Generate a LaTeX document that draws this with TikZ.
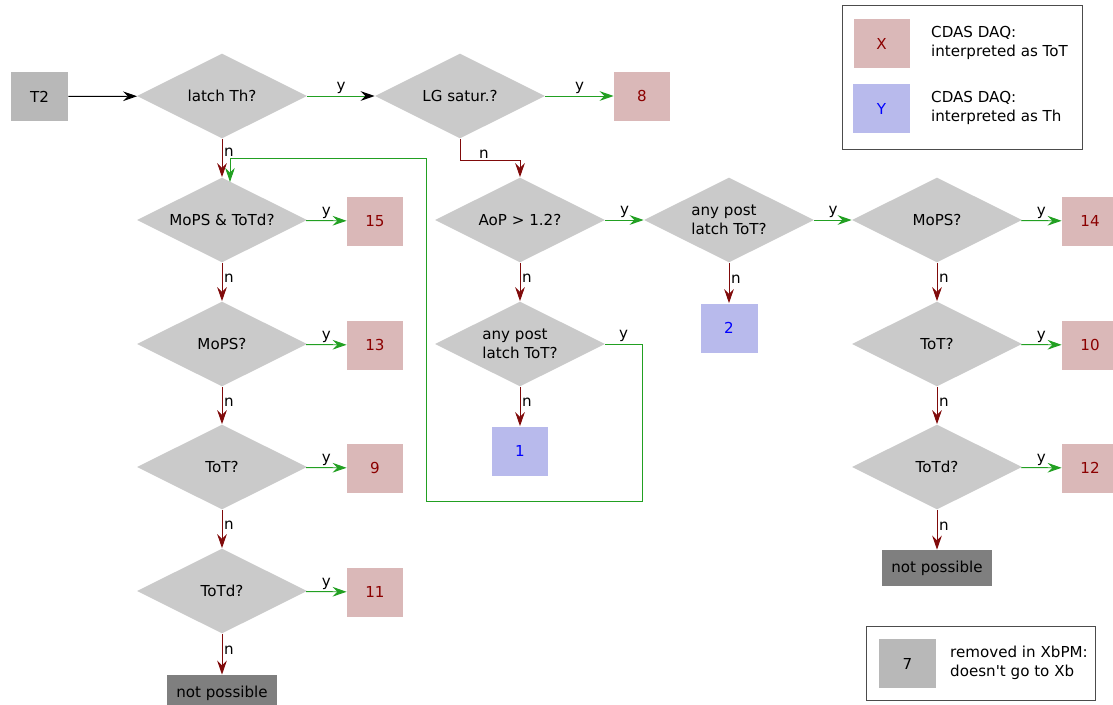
\documentclass[tikz,border=0pt]{standalone}
\usepackage{fontspec}
\setmainfont{DejaVu Sans}
\usetikzlibrary{shapes.geometric,arrows.meta}
\definecolor{diagray}{RGB}{202,202,202}
\definecolor{startgray}{RGB}{184,184,184}
\definecolor{totfill}{RGB}{218,184,184}
\definecolor{thfill}{RGB}{184,186,236}
\definecolor{totext}{RGB}{139,0,0}
\definecolor{nocol}{RGB}{128,10,10}
\definecolor{yescol}{RGB}{34,160,34}
\definecolor{deadgray}{RGB}{127,127,127}
\begin{document}
\begin{tikzpicture}[x=0.02cm, y=-0.02cm,
    font=\fontsize{8.6}{10.6}\selectfont,
    decision/.style={diamond, fill=diagray, inner sep=0pt, aspect=2,
      minimum width=3.4cm, minimum height=1.7cm, align=left},
    startbox/.style={rectangle, fill=startgray, minimum width=1.14cm, minimum height=0.98cm},
    totbox/.style={rectangle, fill=totfill, text=totext, minimum width=1.12cm, minimum height=0.98cm},
    thbox/.style={rectangle, fill=thfill, text=blue, minimum width=1.14cm, minimum height=0.98cm},
    deadbox/.style={rectangle, fill=deadgray, minimum width=2.22cm, minimum height=0.72cm},
    yes/.style={draw=yescol, line width=0.55pt, -{Stealth[length=8pt, width=5.5pt, inset=2.7pt]}},
    no/.style={draw=nocol, line width=0.55pt, -{Stealth[length=8pt, width=5.5pt, inset=2.7pt]}},
    lbl/.style={inner sep=1pt, text=black}]
    \useasboundingbox (0,0) rectangle (1113,704);

    % Start and first decisions
    \node[startbox] (t2) at (39.5,96.5) {T2};
    \node[decision] (latch) at (222,96) {latch Th?};
    \node[decision] (lgsat) at (460,96) {LG satur.?};
    \node[totbox] (b8) at (642,96) {8};

    % Left column
    \node[decision] (mopstotd) at (222,220) {MoPS \& ToTd?};
    \node[decision] (mopsL) at (222,344) {MoPS?};
    \node[decision] (totL) at (222,467) {ToT?};
    \node[decision] (totdL) at (222,591) {ToTd?};
    \node[deadbox] (deadL) at (222,693) {not possible};
    \node[totbox] (b15) at (375,221) {15};
    \node[totbox] (b13) at (375,345) {13};
    \node[totbox] (b9) at (375,468) {9};
    \node[totbox] (b11) at (375,592) {11};

    % Middle columns
    \node[decision] (aop) at (520,220) {AoP > 1.2?};
    \node[decision] (anymid) at (729,220) {any post\\latch ToT?};
    \node[decision] (anylow) at (520,344) {any post\\latch ToT?};
    \node[thbox] (b1) at (520,451) {1};
    \node[thbox] (b2) at (729,328) {2};

    % Right column
    \node[decision] (mopsR) at (937,220) {MoPS?};
    \node[decision] (totR) at (937,344) {ToT?};
    \node[decision] (totdR) at (937,467) {ToTd?};
    \node[deadbox] (deadR) at (937,568) {not possible};
    \node[totbox] (b14) at (1090,221) {14};
    \node[totbox] (b10) at (1090,345) {10};
    \node[totbox] (b12) at (1090,468) {12};

    % Connectors
    \draw[line width=0.55pt, -{Stealth[length=8pt, width=5.5pt, inset=2.7pt]}] (t2) -- (latch);
    \draw[draw=yescol, line width=0.55pt, -{Stealth[length=8pt, width=5.5pt, inset=2.7pt, color=black]}]
      (latch) -- node[lbl, above] {y} (lgsat);
    \draw[yes] (lgsat) -- node[lbl, above] {y} (b8);
    \draw[no] (latch) -- node[lbl, right, pos=0.35] {n} (mopstotd);
    \draw[no] (lgsat.south) -- ++(0,22) -| node[lbl, above, pos=0.2] {n} (aop.north);

    \foreach \q/\r in {mopstotd/b15, mopsL/b13, totL/b9, totdL/b11,
                       aop/anymid, anymid/mopsR, mopsR/b14, totR/b10, totdR/b12}
      \draw[yes] (\q) -- node[lbl, above] {y} (\r);
    \foreach \q/\r in {mopstotd/mopsL, mopsL/totL, totL/totdL, totdL/deadL,
                       aop/anylow, anylow/b1, anymid/b2,
                       mopsR/totR, totR/totdR, totdR/deadR}
      \draw[no] (\q) -- node[lbl, right, pos=0.4] {n} (\r);

    % Loop back to MoPS & ToTd
    \coordinate (loopa) at (642,501);
    \coordinate (loopb) at (426,158);
    \coordinate (loopin) at (230,182);
    \draw[yes] (anylow.east) -| node[lbl, above, pos=0.25] {y} (loopa) -| (loopb) -| (loopin);

    % Legends
    \node[draw=black!70, line width=0.5pt, minimum width=4.8cm, minimum height=2.88cm] (legA) at (962,77) {};
    \node[totbox] (legx) at (881.5,43.5) {X};
    \node[thbox] (legy) at (881.5,108.5) {Y};
    \node[anchor=west, align=left] (legxt) at (925,43) {CDAS DAQ:\\interpreted as ToT};
    \node[anchor=west, align=left] (legyt) at (925,108) {CDAS DAQ:\\interpreted as Th};

    \node[draw=black!70, line width=0.5pt, minimum width=4.58cm, minimum height=1.48cm] (legB) at (980.5,663) {};
    \node[startbox] (leg7) at (907.5,663.5) {7};
    \node[anchor=west, align=left] (leg7t) at (944,663) {removed in XbPM:\\doesn\textquotesingle t go to Xb};
\end{tikzpicture}
\end{document}
